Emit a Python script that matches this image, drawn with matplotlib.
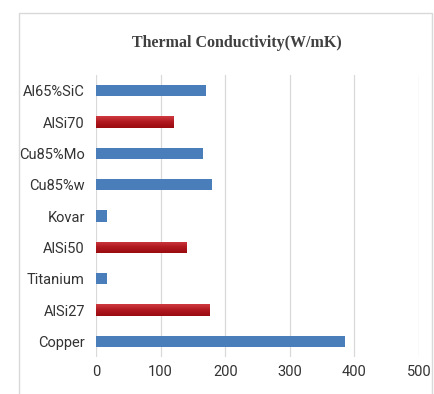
import numpy as np
import matplotlib
matplotlib.use("Agg")
import matplotlib.pyplot as plt
from matplotlib.colors import LinearSegmentedColormap
from matplotlib.patches import Rectangle

materials = ["Copper", "AlSi27", "Titanium", "AlSi50", "Kovar",
             "Cu85%w", "Cu85%Mo", "AlSi70", "Al65%SiC"]
conductivity = [385, 175, 17, 140, 17, 180, 165, 120, 170]
highlight = [False, True, False, True, False, False, False, True, False]
xticks = [0, 100, 200, 300, 400, 500]

blue = "#4a7ebb"
reds = LinearSegmentedColormap.from_list("reds", ["#cf3a40", "#b01820", "#9a0c10"])

fig = plt.figure(figsize=(4.34, 3.94), dpi=100)

# light frame around the chart area
fig.patches.append(Rectangle((19 / 434, -0.05), 413 / 434, 1.05 - 13 / 394,
                             transform=fig.transFigure, fill=False,
                             edgecolor="#d9d9d9", linewidth=1.0))

ax = fig.add_axes([96 / 434, 37 / 394, 323 / 434, 282 / 394])
ypos = np.arange(len(materials))
bars = ax.barh(ypos, conductivity, height=0.36,
               color=[("#b01820" if h else blue) for h in highlight], zorder=3)

# vertical gradient on the highlighted bars
grad = np.linspace(0, 1, 64).reshape(-1, 1)
for bar, h in zip(bars, highlight):
    if not h:
        continue
    x0, y0 = bar.get_x(), bar.get_y()
    w, hh = bar.get_width(), bar.get_height()
    im = ax.imshow(grad, cmap=reds, aspect="auto", origin="upper",
                   extent=[x0, x0 + w, y0, y0 + hh], zorder=4)
    im.set_clip_path(bar)

ax.set_xlim(0, 500)
ax.set_ylim(-0.5, len(materials) - 0.5)
ax.set_xticks(xticks)
ax.set_yticks(ypos)
ax.set_yticklabels(materials)
ax.grid(axis="x", color="#d9d9d9", linewidth=0.9, zorder=0)
ax.set_axisbelow(True)
for s in ax.spines.values():
    s.set_visible(False)

label_font = ["Roboto", "DejaVu Sans"]
ax.tick_params(axis="both", length=0, colors="#333333", labelsize=10.5)
ax.tick_params(axis="x", pad=6)
ax.tick_params(axis="y", pad=8)
for t in ax.get_xticklabels() + ax.get_yticklabels():
    t.set_fontfamily(label_font)

fig.text(237 / 434, 1 - 43 / 394, "Thermal Conductivity(W/mK)",
         ha="center", va="center", fontsize=11.5, fontweight="bold",
         family=["Liberation Serif", "DejaVu Serif"], color="#404040")

fig.savefig("out.png", dpi=100)
